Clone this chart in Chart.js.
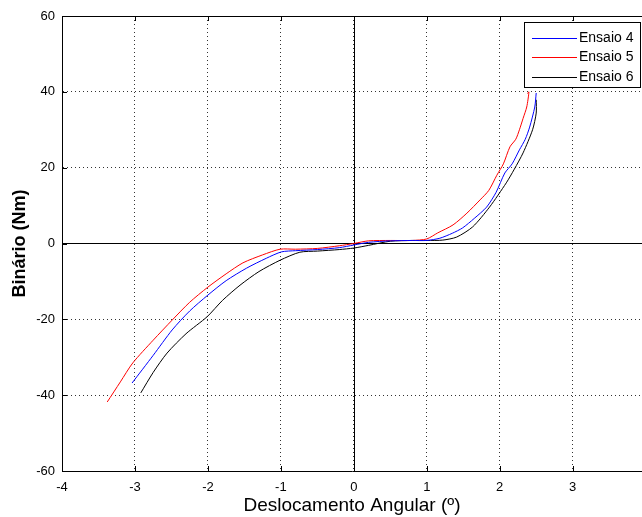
<!DOCTYPE html>
<html><head><meta charset="utf-8">
<script src="https://cdn.jsdelivr.net/npm/chart.js@4/dist/chart.umd.min.js"></script>
<style>html,body{margin:0;padding:0;background:#fff;overflow:hidden}</style>
</head><body>
<canvas id="c" width="642" height="517"></canvas>
<script>
const seriesNames = ['Ensaio 4', 'Ensaio 5', 'Ensaio 6'];
const seriesColors = ['#0000ff', '#ff0000', '#000000'];

const ensaio4X = [-3.04, -2.75, -2.49, -2.25, -2.0, -1.75, -1.47, -1.2, -0.99, -0.8, -0.5, -0.2, 0, 0.2, 0.5, 0.8, 1.0, 1.18, 1.35, 1.49, 1.65, 1.82, 1.95, 2.07, 2.17, 2.27, 2.35, 2.41, 2.48, 2.5];
const ensaio4Y = [-36.8, -29.5, -22.8, -17.8, -13.6, -9.8, -6.5, -3.9, -2.2, -1.9, -1.6, -1.1, -0.4, 0.3, 0.7, 0.8, 0.8, 1.4, 2.7, 4.1, 6.6, 9.6, 13.5, 18.6, 21.0, 24.7, 27.5, 30.7, 36.0, 39.7];

const ensaio5X = [-3.38, -3.2, -3.03, -2.75, -2.49, -2.25, -2.0, -1.75, -1.52, -1.25, -1.01, -0.8, -0.5, -0.2, 0, 0.2, 0.5, 0.8, 1.0, 1.15, 1.36, 1.55, 1.73, 1.85, 1.96, 2.05, 2.14, 2.22, 2.27, 2.32, 2.37, 2.40, 2.38];
const ensaio5Y = [-41.8, -36.5, -31.5, -25.5, -20.2, -15.5, -11.5, -8.0, -5.1, -3.0, -1.5, -1.5, -1.3, -0.6, 0, 0.7, 0.8, 0.8, 1.2, 2.8, 4.9, 8.0, 11.5, 14.0, 18.0, 21.0, 25.5, 27.5, 30.0, 33.0, 36.0, 40.0, 39.5];

const ensaio6X = [-2.92, -2.75, -2.56, -2.3, -2.01, -1.8, -1.56, -1.3, -1.01, -0.74, -0.5, -0.2, 0, 0.2, 0.5, 0.8, 1.0, 1.22, 1.41, 1.63, 1.86, 2.09, 2.2, 2.32, 2.45, 2.5, 2.5];
const ensaio6Y = [-39.4, -34.0, -28.9, -23.8, -19.3, -15.0, -11.0, -7.4, -4.4, -2.3, -2.0, -1.6, -1.2, -0.5, 0.6, 0.8, 0.8, 0.9, 1.7, 4.4, 9.6, 16.0, 19.6, 23.9, 30.0, 34.4, 37.9];

const xTickValues = [-4, -3, -2, -1, 0, 1, 2, 3];
const yTickValues = [-60, -40, -20, 0, 20, 40, 60];
const xTitle = 'Deslocamento Angular (º)';
const yTitle = 'Binário (Nm)';

const FONT = "'Liberation Sans', Arial, Helvetica, sans-serif";

function pts(xs, ys) { return xs.map((x, i) => ({ x: x, y: ys[i] })); }

const seriesData = [pts(ensaio4X, ensaio4Y), pts(ensaio5X, ensaio5Y), pts(ensaio6X, ensaio6Y)];

const matlabFrame = {
  id: 'matlabFrame',
  beforeDatasetsDraw(chart) {
    const { ctx, chartArea: a, scales: { x, y } } = chart;
    ctx.save();
    ctx.strokeStyle = '#000';
    ctx.lineWidth = 1;
    const x0 = Math.round(x.getPixelForValue(0)) + 0.5;
    const y0 = y.getPixelForValue(0);
    ctx.beginPath();
    ctx.moveTo(x0, a.top); ctx.lineTo(x0, a.bottom);
    ctx.moveTo(a.left, y0); ctx.lineTo(a.right, y0);
    ctx.stroke();
    ctx.restore();
  },
  afterDatasetsDraw(chart) {
    const { ctx, chartArea: a, scales: { x, y } } = chart;
    ctx.save();
    ctx.strokeStyle = '#000';
    ctx.lineWidth = 1;
    ctx.beginPath();
    const top = Math.round(a.top) + 0.5;
    ctx.moveTo(a.left, top); ctx.lineTo(a.right, top);
    x.ticks.forEach(t => {
      const px = Math.round(x.getPixelForValue(t.value)) + 0.5;
      ctx.moveTo(px, a.bottom); ctx.lineTo(px, a.bottom - 5);
      ctx.moveTo(px, a.top); ctx.lineTo(px, a.top + 5);
    });
    y.ticks.forEach(t => {
      const py = Math.round(y.getPixelForValue(t.value)) + 0.5;
      ctx.moveTo(a.left, py); ctx.lineTo(a.left + 5, py);
    });
    ctx.stroke();
    ctx.restore();
  },
  afterDraw(chart) {
    const { ctx } = chart;
    const bx = 524.5, by = 22.5, bw = 116, bh = 65;
    ctx.save();
    ctx.fillStyle = '#fff';
    ctx.fillRect(bx, by, bw, bh);
    ctx.strokeStyle = '#000';
    ctx.lineWidth = 1;
    ctx.strokeRect(bx, by, bw, bh);
    ctx.font = '14px ' + FONT;
    ctx.textBaseline = 'middle';
    ctx.textAlign = 'left';
    chart.data.datasets.forEach((ds, i) => {
      const ry = Math.round(by + 15 + i * 19.5) + 0.5;
      ctx.strokeStyle = ds.borderColor;
      ctx.beginPath();
      ctx.moveTo(532, ry); ctx.lineTo(577, ry);
      ctx.stroke();
      ctx.fillStyle = '#000';
      ctx.fillText(ds.label, 579, ry);
    });
    ctx.restore();
  }
};

new Chart(document.getElementById('c'), {
  type: 'scatter',
  data: {
    datasets: seriesNames.map((name, i) => ({
      label: name,
      data: seriesData[i],
      showLine: true,
      borderColor: seriesColors[i],
      backgroundColor: seriesColors[i],
      borderWidth: 1,
      pointRadius: 0,
      pointHoverRadius: 0,
      tension: 0.25,
      fill: false
    }))
  },
  options: {
    responsive: false,
    animation: false,
    events: [],
    layout: { padding: { left: 0, right: 0, top: 16, bottom: 0 } },
    plugins: { legend: { display: false }, tooltip: { enabled: false } },
    scales: {
      x: {
        type: 'linear',
        min: -4, max: 3.95,
        afterBuildTicks: s => { s.ticks = xTickValues.map(v => ({ value: v })); },
        afterFit: s => { s.height = 46; },
        ticks: { color: '#000', font: { family: FONT, size: 13 }, padding: 9, maxRotation: 0, autoSkip: false },
        grid: { color: '#333', lineWidth: 1, drawTicks: false },
        border: { display: true, color: '#000', width: 1, dash: [1, 3] },
        title: { display: true, text: xTitle, color: '#000', font: { family: FONT, size: 19 }, padding: { top: 0, bottom: 0 } }
      },
      y: {
        type: 'linear',
        min: -60, max: 60,
        afterBuildTicks: s => { s.ticks = yTickValues.map(v => ({ value: v })); },
        afterFit: s => { s.width = 62; },
        ticks: { color: '#000', font: { family: FONT, size: 13 }, padding: 7, autoSkip: false },
        grid: { color: '#333', lineWidth: 1, drawTicks: false },
        border: { display: true, color: '#000', width: 1, dash: [1, 3] },
        title: { display: true, text: yTitle, color: '#000', font: { family: FONT, size: 18, weight: 'bold' }, padding: { top: 9, bottom: 0 } }
      }
    }
  },
  plugins: [matlabFrame]
});
</script>
</body></html>
